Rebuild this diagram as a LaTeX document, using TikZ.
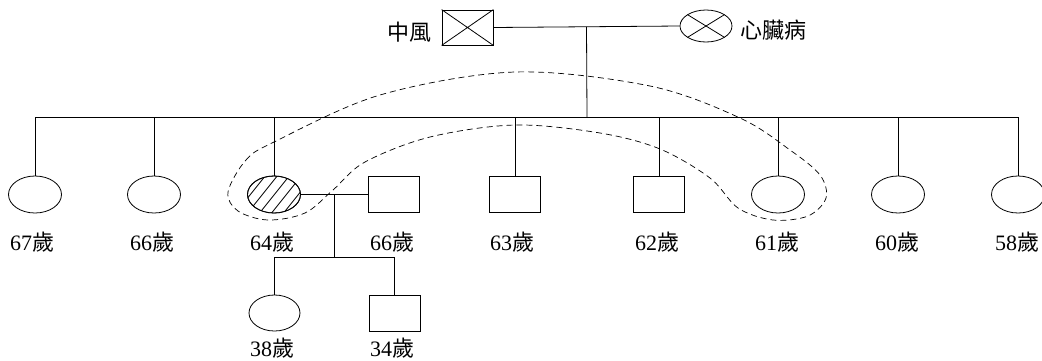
\documentclass[tikz,border=0pt]{standalone}
\usepackage{fontspec}
\setmainfont{Liberation Serif}
\newfontfamily\cjk{Noto Sans CJK TC}
\usetikzlibrary{shapes.geometric,calc}
\tikzset{
  fem/.style={ellipse,draw,line width=0.8pt,minimum width=53pt,minimum height=37pt,inner sep=0pt},
  mal/.style={rectangle,draw,line width=0.8pt,minimum width=51pt,minimum height=36pt,inner sep=0pt},
  lab/.style={font=\fontsize{22}{25}\selectfont,inner sep=0pt},
  link/.style={line width=0.8pt},
  loop/.style={dashed,line width=0.7pt,dash pattern=on 6pt off 4pt}
}
\newcommand{\sui}{{\cjk 歲}}
\begin{document}
\begin{tikzpicture}[x=1pt,y=-1pt]
\useasboundingbox (0,0) rectangle (1042,360);
% parents
\node[mal,minimum width=51pt,minimum height=35pt] (fa) at (467.5,27.5) {};
\draw[link] (fa.north west) -- (fa.south east) (fa.south west) -- (fa.north east);
\node[fem,minimum width=52pt,minimum height=32pt] (mo) at (706,26) {};
\draw[link] ($(mo.center)+(-18.4,-11.3)$) -- ($(mo.center)+(18.4,11.3)$)
            ($(mo.center)+(-18.4,11.3)$) -- ($(mo.center)+(18.4,-11.3)$);
\node[lab,anchor=east] (lfa) at (432,32) {\cjk 中風};
\node[lab,anchor=west] (lmo) at (740,30) {\cjk 心臟病};
\draw[link] (fa.east) -- (mo.west);
\coordinate (m1) at ($(fa.east)!0.5!(mo.west)$);
\coordinate (m2) at (587,117);
\draw[link] (m1) -- (m2);
% siblings
\node[fem] (c67) at (35,194.5) {};
\node[fem] (c66) at (154,194.5) {};
\node[fem] (c64) at (274,194.5) {};
\node[mal] (c63) at (515,194.5) {};
\node[mal] (c62) at (659,194.5) {};
\node[fem] (c61) at (778,194.5) {};
\node[fem] (c60) at (898,194.5) {};
\node[fem] (c58) at (1018,194.5) {};
\foreach \c in {c67,c66,c64,c63,c62,c61,c60,c58}
  \draw[link] (\c.north) |- (m2);
% hatching
\begin{scope}
\clip (c64.center) ellipse (26.5pt and 18.5pt);
\foreach \i in {-60,-48,...,80}
  \draw[line width=0.8pt] (274+\i-20,220) -- (274+\i+20,170);
\end{scope}
\node[fem] at (c64) {};
% spouse
\node[mal] (sp) at (393.5,194.5) {};
\draw[link] (c64.east) -- (sp.west);
\coordinate (m3) at ($(c64.east)!0.5!(sp.west)$);
\coordinate (m4) at ($(m3)+(0,63)$);
\draw[link] (m3) -- (m4);
\node[fem,minimum width=51pt,minimum height=36pt] (k38) at (274.5,313) {};
\node[mal] (k34) at (394.5,313) {};
\draw[link] (k38.north) |- (m4);
\draw[link] (k34.north) |- (m4);
% labels
\node[lab] (l67) at (32,242) {67\sui};
\node[lab] (l66) at (152,242) {66\sui};
\node[lab] (l64) at (272,242) {64\sui};
\node[lab] (ls) at (392,242) {66\sui};
\node[lab] (l63) at (512,242) {63\sui};
\node[lab] (l62) at (657,242) {62\sui};
\node[lab] (l61) at (777,242) {61\sui};
\node[lab] (l60) at (897,242) {60\sui};
\node[lab] (l58) at (1017,242) {58\sui};
\node[lab] (l38) at (272,348) {38\sui};
\node[lab] (l34) at (392,348) {34\sui};
% dashed loop
\draw[loop] plot[smooth cycle,tension=0.55] coordinates {
 (228,192) (246,160) (274,142) (380,95) (515,72) (650,86) (740,118) (790,150)
 (820,175) (826,198) (808,216) (773,220) (738,208) (710,178) (660,149)
 (600,133) (515,125) (430,137) (365,162) (333,190) (305,213) (268,220) (238,211)};
\end{tikzpicture}
\end{document}
